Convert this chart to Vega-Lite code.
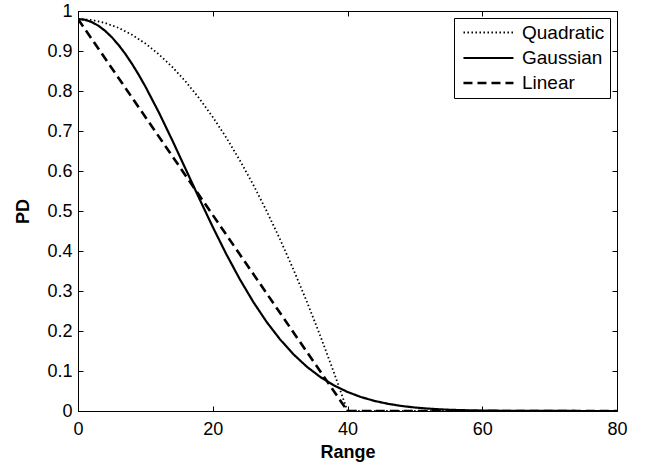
{
  "$schema": "https://vega.github.io/schema/vega-lite/v6.json",
  "autosize": "none",
  "width": 539,
  "height": 400,
  "padding": {"left": 78, "top": 11, "right": 33, "bottom": 52},
  "background": "white",
  "config": {
    "font": "Liberation Sans",
    "view": {"stroke": "black", "strokeWidth": 1},
    "axis": {"grid": false, "domainColor": "black", "tickColor": "black", "labelColor": "black", "titleColor": "black", "labelFontSize": 18, "titleFontSize": 18, "titleFontWeight": "bold", "tickSize": -5, "labelFont": "Liberation Sans", "titleFont": "Liberation Sans"},
    "legend": {"labelFont": "Liberation Sans", "labelFontSize": 19, "labelColor": "black"}
  },
  "data": {"values": [
    {"r": 0, "pd": 0.98, "model": "Quadratic"},
    {"r": 2, "pd": 0.9776, "model": "Quadratic"},
    {"r": 4, "pd": 0.9702, "model": "Quadratic"},
    {"r": 6, "pd": 0.958, "model": "Quadratic"},
    {"r": 8, "pd": 0.9408, "model": "Quadratic"},
    {"r": 10, "pd": 0.9188, "model": "Quadratic"},
    {"r": 12, "pd": 0.8918, "model": "Quadratic"},
    {"r": 14, "pd": 0.86, "model": "Quadratic"},
    {"r": 16, "pd": 0.8232, "model": "Quadratic"},
    {"r": 18, "pd": 0.7816, "model": "Quadratic"},
    {"r": 20, "pd": 0.735, "model": "Quadratic"},
    {"r": 22, "pd": 0.6836, "model": "Quadratic"},
    {"r": 24, "pd": 0.6272, "model": "Quadratic"},
    {"r": 26, "pd": 0.566, "model": "Quadratic"},
    {"r": 28, "pd": 0.4998, "model": "Quadratic"},
    {"r": 30, "pd": 0.4288, "model": "Quadratic"},
    {"r": 32, "pd": 0.3528, "model": "Quadratic"},
    {"r": 34, "pd": 0.272, "model": "Quadratic"},
    {"r": 36, "pd": 0.1862, "model": "Quadratic"},
    {"r": 38, "pd": 0.0956, "model": "Quadratic"},
    {"r": 40, "pd": 0, "model": "Quadratic"},
    {"r": 80, "pd": 0, "model": "Quadratic"},
    {"r": 0, "pd": 0.98, "model": "Gaussian"},
    {"r": 1, "pd": 0.9781, "model": "Gaussian"},
    {"r": 2, "pd": 0.9726, "model": "Gaussian"},
    {"r": 3, "pd": 0.9635, "model": "Gaussian"},
    {"r": 4, "pd": 0.9508, "model": "Gaussian"},
    {"r": 5, "pd": 0.9348, "model": "Gaussian"},
    {"r": 6, "pd": 0.9155, "model": "Gaussian"},
    {"r": 7, "pd": 0.8933, "model": "Gaussian"},
    {"r": 8, "pd": 0.8683, "model": "Gaussian"},
    {"r": 9, "pd": 0.8409, "model": "Gaussian"},
    {"r": 10, "pd": 0.8112, "model": "Gaussian"},
    {"r": 12, "pd": 0.7465, "model": "Gaussian"},
    {"r": 14, "pd": 0.6766, "model": "Gaussian"},
    {"r": 16, "pd": 0.604, "model": "Gaussian"},
    {"r": 18, "pd": 0.5312, "model": "Gaussian"},
    {"r": 20, "pd": 0.4601, "model": "Gaussian"},
    {"r": 22, "pd": 0.3925, "model": "Gaussian"},
    {"r": 24, "pd": 0.3299, "model": "Gaussian"},
    {"r": 26, "pd": 0.2731, "model": "Gaussian"},
    {"r": 28, "pd": 0.2226, "model": "Gaussian"},
    {"r": 30, "pd": 0.1788, "model": "Gaussian"},
    {"r": 32, "pd": 0.1414, "model": "Gaussian"},
    {"r": 34, "pd": 0.1102, "model": "Gaussian"},
    {"r": 36, "pd": 0.0846, "model": "Gaussian"},
    {"r": 38, "pd": 0.0639, "model": "Gaussian"},
    {"r": 40, "pd": 0.0476, "model": "Gaussian"},
    {"r": 42, "pd": 0.0349, "model": "Gaussian"},
    {"r": 44, "pd": 0.0252, "model": "Gaussian"},
    {"r": 46, "pd": 0.018, "model": "Gaussian"},
    {"r": 48, "pd": 0.0126, "model": "Gaussian"},
    {"r": 50, "pd": 0.0087, "model": "Gaussian"},
    {"r": 52, "pd": 0.0059, "model": "Gaussian"},
    {"r": 54, "pd": 0.004, "model": "Gaussian"},
    {"r": 56, "pd": 0.0026, "model": "Gaussian"},
    {"r": 58, "pd": 0.0017, "model": "Gaussian"},
    {"r": 60, "pd": 0.0011, "model": "Gaussian"},
    {"r": 65, "pd": 0.0003, "model": "Gaussian"},
    {"r": 70, "pd": 0.0001, "model": "Gaussian"},
    {"r": 80, "pd": 0, "model": "Gaussian"},
    {"r": 0, "pd": 0.98, "model": "Linear"},
    {"r": 40, "pd": 0, "model": "Linear"},
    {"r": 80, "pd": 0, "model": "Linear"}
  ]},
  "layer": [
    {
      "mark": {"type": "line", "color": "black", "clip": true},
      "encoding": {
        "x": {"field": "r", "type": "quantitative", "title": "Range", "scale": {"domain": [0, 80], "nice": false},
          "axis": {"values": [0, 20, 40, 60, 80], "labelPadding": 14, "titlePadding": 5, "labelFlush": false}},
        "y": {"field": "pd", "type": "quantitative", "title": "PD", "scale": {"domain": [0, 1], "nice": false},
          "axis": {"values": [0, 0.1, 0.2, 0.3, 0.4, 0.5, 0.6, 0.7, 0.8, 0.9, 1], "format": "~g", "labelPadding": 11, "titlePadding": 14, "labelFlush": false}},
        "strokeDash": {"field": "model", "type": "nominal",
          "scale": {"domain": ["Quadratic", "Gaussian", "Linear"], "range": [[1.5, 2.5], [1, 0], [9, 5]]},
          "legend": {"title": null, "orient": "top-right", "offset": 7, "symbolType": "M-0.65,0H5.23", "symbolSize": 289, "symbolStrokeColor": "black", "symbolStrokeWidth": 2.5, "strokeColor": "black", "fillColor": "white", "padding": 5, "rowPadding": 5, "labelOffset": 43, "cornerRadius": 0}},
        "strokeWidth": {"field": "model", "type": "nominal",
          "scale": {"domain": ["Quadratic", "Gaussian", "Linear"], "range": [1.8, 2.6, 2.6]}, "legend": null}
      }
    },
    {
      "mark": {"type": "line", "opacity": 0},
      "encoding": {
        "x": {"field": "r", "type": "quantitative", "axis": {"orient": "top", "values": [0, 20, 40, 60, 80], "labels": false, "title": null}},
        "y": {"field": "pd", "type": "quantitative", "axis": {"orient": "right", "values": [0, 0.1, 0.2, 0.3, 0.4, 0.5, 0.6, 0.7, 0.8, 0.9, 1], "labels": false, "title": null}}
      }
    }
  ],
  "resolve": {"axis": {"x": "independent", "y": "independent"}}
}
